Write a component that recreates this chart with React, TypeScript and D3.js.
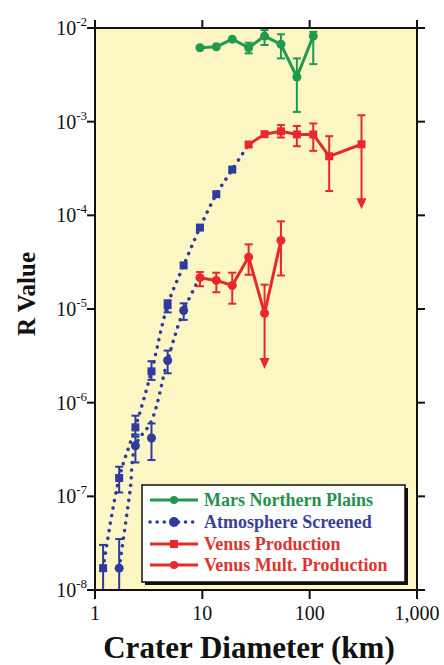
import React from "react";
import * as d3 from "d3";

// ---- Data ----
const xTicks = [1, 10, 100, 1000];
const xTickLabels = ["1", "10", "100", "1,000"];
const yExps = [-8, -7, -6, -5, -4, -3, -2];

const marsD = [9.5, 13.5, 19, 27, 38, 54, 76, 108];
const marsR = [6.15e-3, 6.3e-3, 7.6e-3, 6.15e-3, 8.2e-3, 6.7e-3, 3.0e-3, 8.2e-3];
const marsLo = [null, null, null, 5.36e-3, 6.58e-3, 4.74e-3, 1.27e-3, 4.12e-3];
const marsHi = [null, null, null, 6.97e-3, 9.5e-3, 8.57e-3, 4.74e-3, 9.1e-3];

const venusD = [27, 38, 54, 76, 108, 152, 304];
const venusR = [5.7e-4, 7.35e-4, 7.9e-4, 7.3e-4, 7.3e-4, 4.27e-4, 5.74e-4];
const venusLo = [null, null, 6.78e-4, 5.47e-4, 4.88e-4, 1.82e-4, 1.16e-4];
const venusHi = [null, null, 9.2e-4, 9.0e-4, 9.57e-4, 7.0e-4, 1.17e-3];
const venusArrow = [false, false, false, false, false, false, true];

const multD = [9.5, 13.5, 19, 27, 38, 54];
const multR = [2.16e-5, 2.02e-5, 1.78e-5, 3.58e-5, 9.0e-6, 5.4e-5];
const multLo = [1.75e-5, 1.51e-5, 1.14e-5, 2.32e-5, 2.29e-6, 2.28e-5];
const multHi = [2.48e-5, 2.44e-5, 2.44e-5, 4.9e-5, 1.82e-5, 8.63e-5];
const multArrow = [false, false, false, false, true, false];

const atmUpperD = [1.19, 1.68, 2.38, 3.36, 4.75, 6.7, 9.5, 13.5, 19];
const atmUpperR = [1.71e-8, 1.57e-7, 5.45e-7, 2.16e-6, 1.1e-5, 2.92e-5, 7.4e-5, 1.68e-4, 3.08e-4];
const atmUpperLo = [1e-8, 1.1e-7, 4.55e-7, 1.75e-6, 9.2e-6, null, null, null, null];
const atmUpperHi = [3.03e-8, 2.07e-7, 7.26e-7, 2.77e-6, 1.24e-5, null, null, null, null];

const atmLowerD = [1.68, 2.38, 3.36, 4.75, 6.7];
const atmLowerR = [1.71e-8, 3.47e-7, 4.2e-7, 2.82e-6, 9.64e-6];
const atmLowerLo = [1e-8, 2.3e-7, 2.44e-7, 2.06e-6, 7.65e-6];
const atmLowerHi = [3.5e-8, 4.33e-7, 6.0e-7, 3.6e-6, 1.15e-5];

// dotted screening curves
const upperCurveD = [1.19, 1.68, 2.38, 3.36, 4.75, 6.7, 9.5, 13.5, 19, 27];
const upperCurveR = [1.71e-8, 1.57e-7, 5.45e-7, 2.16e-6, 1.1e-5, 2.92e-5, 7.4e-5, 1.68e-4, 3.08e-4, 5.7e-4];
const lowerCurveD = [1.68, 2.12, 2.38, 3.36, 4.75, 6.7, 9.5];
const lowerCurveR = [1.71e-8, 1.15e-7, 3.47e-7, 6.4e-7, 2.82e-6, 9.64e-6, 2.16e-5];

const legendLabels = ["Mars Northern Plains", "Atmosphere Screened", "Venus Production", "Venus Mult. Production"];

const GREEN = "#1f9a4e";
const BLUE = "#2d3a9e";
const RED = "#e8282b";
const BG = "#fbf6c4";

const W = 444, H = 665;
const L = 95, R = 417, T = 28, B = 590;

const SERIF = "Liberation Serif";

export default function App() {
  const x = d3.scaleLog().domain([1, 1000]).range([L, R]);
  const y = d3.scaleLog().domain([1e-8, 1e-2]).range([B, T]);
  const yc = (v: number) => Math.min(B, y(v));

  const line = (ds: number[], rs: number[], curve?: any) => {
    const g = d3.line<number>().x((_, i) => x(ds[i])).y((_, i) => y(rs[i]));
    if (curve) g.curve(curve);
    return g(ds.map((_, i) => i)) || "";
  };

  const errBars = (ds: number[], lo: (number | null)[], hi: (number | null)[], color: string, arrows?: boolean[], key = "") =>
    ds.map((d, i) => {
      if (lo[i] == null || hi[i] == null) return null;
      const cx = x(d);
      const y1 = yc(hi[i] as number);
      const y2 = yc(lo[i] as number);
      const arrow = arrows && arrows[i];
      return (
        <g key={key + i} stroke={color} strokeWidth={2}>
          <line x1={cx} x2={cx} y1={y1} y2={arrow ? y2 - 8 : y2} />
          <line x1={cx - 4} x2={cx + 4} y1={y1} y2={y1} />
          {!arrow && y2 < B && <line x1={cx - 4} x2={cx + 4} y1={y2} y2={y2} />}
          {arrow && (
            <path d={`M${cx - 5},${y2 - 11} L${cx + 5},${y2 - 11} L${cx},${y2} Z`} fill={color} stroke="none" />
          )}
        </g>
      );
    });

  const circles = (ds: number[], rs: number[], color: string, r: number, key: string) =>
    ds.map((d, i) => <circle key={key + i} cx={x(d)} cy={y(rs[i])} r={r} fill={color} />);
  const squares = (ds: number[], rs: number[], color: string, s: number, key: string) =>
    ds.map((d, i) => <rect key={key + i} x={x(d) - s / 2} y={y(rs[i]) - s / 2} width={s} height={s} fill={color} />);

  const legendX = 142, legendY = 485, legendW = 263, legendH = 97;
  const rows = [500, 522, 544, 565];
  const legendColors = [GREEN, BLUE, RED, RED];
  const legendTextColors = ["#23914c", "#3a3f9c", "#dd3430", "#dd3430"];

  return (
    <svg width={W} height={H} style={{ position: "absolute", left: 0, top: 0, background: "#fff" }} fontFamily={SERIF}>
      <rect x={L} y={T} width={R - L} height={B - T} fill={BG} />

      {/* dotted screening curves */}
      <path d={line(upperCurveD, upperCurveR, d3.curveCatmullRom.alpha(0.5))} fill="none" stroke={BLUE} strokeWidth={3.5} strokeDasharray="0.1 7.5" strokeLinecap="round" />
      <path d={line(lowerCurveD, lowerCurveR, d3.curveCatmullRom.alpha(0.5))} fill="none" stroke={BLUE} strokeWidth={3.5} strokeDasharray="0.1 7.5" strokeLinecap="round" />

      {/* lines */}
      <path d={line(venusD, venusR)} fill="none" stroke={RED} strokeWidth={3} strokeLinejoin="round" />
      <path d={line(multD, multR)} fill="none" stroke={RED} strokeWidth={3} strokeLinejoin="round" />
      <path d={line(marsD, marsR)} fill="none" stroke={GREEN} strokeWidth={3} strokeLinejoin="round" />

      {/* error bars */}
      {errBars(atmUpperD, atmUpperLo, atmUpperHi, BLUE, undefined, "au")}
      {errBars(atmLowerD, atmLowerLo, atmLowerHi, BLUE, undefined, "al")}
      {errBars(venusD, venusLo, venusHi, RED, venusArrow, "v")}
      {errBars(multD, multLo, multHi, RED, multArrow, "m")}
      {errBars(marsD, marsLo, marsHi, GREEN, undefined, "g")}

      {/* markers */}
      {squares(atmUpperD, atmUpperR, BLUE, 8, "aus")}
      {circles(atmLowerD, atmLowerR, BLUE, 4.5, "alc")}
      {squares(venusD, venusR, RED, 8, "vs")}
      {circles(multD, multR, RED, 4.5, "mc")}
      {circles(marsD, marsR, GREEN, 4.5, "gc")}

      {/* axes */}
      <g stroke="#111" strokeWidth={2}>
        <line x1={L} x2={R + 8} y1={T} y2={T} />
        <line x1={L} x2={R + 8} y1={B} y2={B} />
        <line x1={L} x2={L} y1={T - 8} y2={B + 9} />
        <line x1={R} x2={R} y1={T - 8} y2={B + 9} />
        {xTicks.map((t) => (
          <g key={"xt" + t}>
            <line x1={x(t)} x2={x(t)} y1={B} y2={B + 9} />
            {t > 1 && <line x1={x(t)} x2={x(t)} y1={T} y2={T - 8} />}
          </g>
        ))}
        {yExps.map((e) => (
          <g key={"yt" + e}>
            <line x1={L - 8} x2={L} y1={y(Math.pow(10, e))} y2={y(Math.pow(10, e))} />
            <line x1={R} x2={R + 8} y1={y(Math.pow(10, e))} y2={y(Math.pow(10, e))} />
          </g>
        ))}
      </g>

      {xTicks.map((t, i) => (
        <text key={"xl" + t} x={x(t)} y={620} textAnchor="middle" fontSize={20} fill="#111" fontFamily={SERIF}>
          {xTickLabels[i]}
        </text>
      ))}
      {yExps.map((e) => (
        <text key={"yl" + e} x={87} y={y(Math.pow(10, e)) + 7} textAnchor="end" fontSize={20} fill="#111" fontFamily={SERIF}>
          10<tspan fontSize={13} dy={-9}>{"-" + Math.abs(e)}</tspan>
        </text>
      ))}

      <text x={249} y={658} textAnchor="middle" fontSize={31} fontWeight="bold" fill="#111" fontFamily={SERIF}>
        Crater Diameter (km)
      </text>
      <text transform={`translate(35,294) rotate(-90)`} textAnchor="middle" fontSize={25} fontWeight="bold" fill="#111" fontFamily={SERIF}>
        R Value
      </text>

      {/* legend */}
      <rect x={legendX + 3} y={legendY + 3} width={legendW} height={legendH} fill="#111" />
      <rect x={legendX} y={legendY} width={legendW} height={legendH} fill="#fff" stroke="#111" strokeWidth={1.5} />
      {legendLabels.map((lab, i) => (
        <g key={"lg" + i}>
          <line x1={150} x2={198} y1={rows[i]} y2={rows[i]} stroke={legendColors[i]} strokeWidth={i === 1 ? 3.5 : 3}
            strokeDasharray={i === 1 ? "0.1 7" : undefined} strokeLinecap={i === 1 ? "round" : "butt"} />
          {i === 2 ? (
            <rect x={170} y={rows[i] - 4} width={8} height={8} fill={legendColors[i]} />
          ) : (
            <circle cx={174} cy={rows[i]} r={i === 1 ? 5 : 4} fill={legendColors[i]} />
          )}
          <text x={204} y={rows[i] + 6} fontSize={18} fontWeight="bold" fill={legendTextColors[i]} fontFamily={SERIF}>
            {lab}
          </text>
        </g>
      ))}
    </svg>
  );
}
